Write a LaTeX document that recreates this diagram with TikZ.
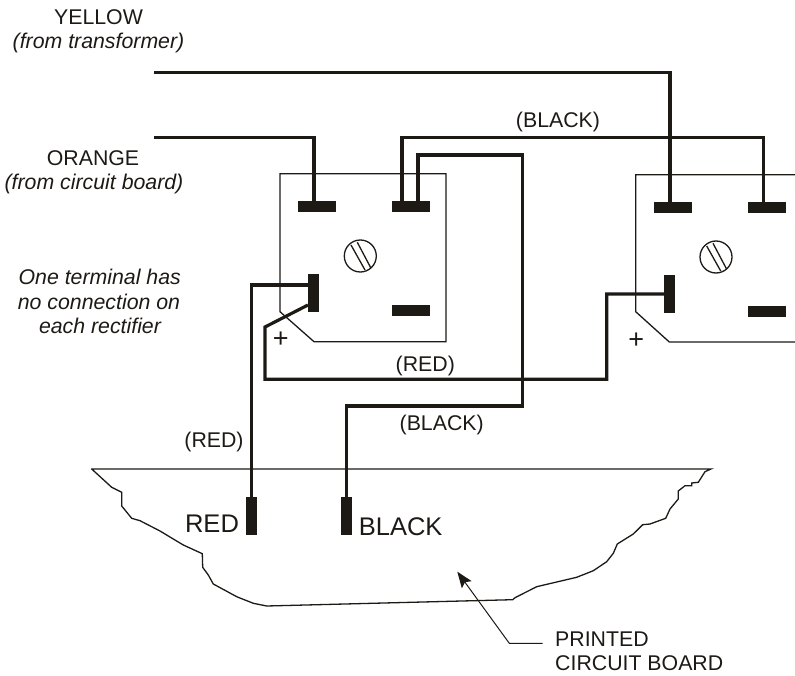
\documentclass[tikz,border=0pt]{standalone}
\usepackage{fontspec}
\setmainfont{Liberation Sans}
\usetikzlibrary{arrows.meta}
\definecolor{ink}{HTML}{1D1A16}
\tikzset{
  x=1pt,y=-1pt,
  wire/.style={draw=ink,line width=3.2pt,line join=miter},
  thin line/.style={draw=ink,line width=1.3pt,line join=miter},
  hterm/.style={fill=ink,draw=none,inner sep=0,minimum width=38pt,minimum height=11pt},
  vterm/.style={fill=ink,draw=none,inner sep=0,minimum width=11pt,minimum height=38pt},
  lab/.style={inner sep=0,anchor=base,text=ink,font=\fontsize{21.3}{24}\selectfont},
  labi/.style={lab,font=\fontsize{21.3}{24}\selectfont\itshape},
  big/.style={lab,font=\fontsize{25.5}{28}\selectfont},
  plus/.style={lab,font=\fontsize{27}{28}\selectfont},
  leftlab/.style={lab,anchor=base west},
  screw/.pic={
    \draw[ink,line width=1.3pt] (0,0) circle[radius=16pt];
    \draw[ink,line width=1.3pt] (-9.3,-11) -- (4.7,14);
    \draw[ink,line width=1.3pt] (-3,-13.7) -- (10.4,11.7);
  }
}
\begin{document}
\begin{tikzpicture}
\useasboundingbox (0,0) rectangle (795,676);
% rectifier outlines
\draw[thin line] (280,311.7) -- (280,173.7) -- (446,173.7) -- (446,341.7) -- (314,341.7) -- cycle;
\draw[thin line] (795,174.7) -- (635.7,174.7) -- (635.7,311.7) -- (669.3,342) -- (795,342);
\pic at (360.3,256) {screw};
\pic at (716,257) {screw};
% board outline
\draw[thin line] (91,469) -- (711,469) -- (705,471.7) -- (698.3,482.3) -- (691.7,483) -- (691.7,485.7) -- (685,485.7) -- (678.3,491) -- (678.3,499) -- (670,509) -- (665.7,518.3) -- (650,524) -- (642.7,524.7) -- (633.3,534) -- (617.3,544) -- (613.3,553.3) -- (606.7,561.7) -- (593.3,570.7) -- (576.7,577.3) -- (536.7,586.7) -- (515,597.7) -- (512.7,599.7) -- (266.7,606) -- (253.3,603.3) -- (236.7,596.7) -- (213.3,584) -- (208.3,575) -- (202.7,567.3) -- (202.3,553.7) -- (183.3,545) -- (160,531) -- (140,520.7) -- (131.7,518.3) -- (121.7,506) -- (121.7,492.3) -- (111.7,487.3) -- (91.7,469);
% terminals
\node[hterm] (a1) at (317,206.3) {};
\node[hterm] (a2) at (411,206.3) {};
\node[hterm] (a3) at (411,310.7) {};
\node[vterm] (a4) at (313.7,293) {};
\node[hterm] (b1) at (673,207.3) {};
\node[hterm] (b2) at (767,207.3) {};
\node[hterm] (b3) at (767,311.7) {};
\node[vterm] (b4) at (669.7,294) {};
\node[vterm] (pr) at (251.5,516) {};
\node[vterm] (pb) at (346.5,516) {};
% free wire ends
\coordinate (yfree) at (154,72.3);
\coordinate (ofree) at (154,137.3);
% wires
\draw[wire] (yfree) -| ([xshift=-3pt]b1.north);
\draw[wire] (ofree) -| ([xshift=-3pt]a1.north);
\draw[wire] ([xshift=-9pt]a2.north) |- (763.5,137.3) -- ([xshift=-3.5pt]b2.north);
\draw[wire] ([xshift=7pt]a2.north) |- (522.5,155) |- (346.5,406) -- (pb.north);
\draw[wire] ([yshift=8pt]a4.west) -| (pr.north);
\draw[wire] ([yshift=-12pt]a4.west) -- (265,327) |- (606.7,379.3) |- (b4.west);
% labels
\node[lab] (l1) at (98.5,25) {YELLOW};
\node[labi] (l2) at (98.5,49) {(from transformer)};
\node[lab] (l3) at (93,166) {ORANGE};
\node[labi] (l4) at (94,190) {(from circuit board)};
\node[labi] (l5) at (99.7,285) {One terminal has};
\node[labi] (l6) at (99,309) {no connection on};
\node[labi] (l7) at (100,333) {each rectifier};
\node[lab] (l8) at (558,127.7) {(BLACK)};
\node[lab] (l9) at (425.3,371.7) {(RED)};
\node[lab] (l10) at (441.7,430) {(BLACK)};
\node[lab] (l11) at (214,447) {(RED)};
\node[plus] (l12) at (280.7,347) {+};
\node[plus] (l13) at (636.3,348) {+};
\node[big] (l14) at (212,532.7) {RED};
\node[big] (l15) at (400.7,535) {BLACK};
\node[leftlab] (l16) at (555,646.7) {PRINTED};
\node[leftlab] (l17) at (555,670) {CIRCUIT BOARD};
% leader
\coordinate (ltip) at (457.3,571.7);
\coordinate (lbend) at (509.3,643.3);
\coordinate (lend) at (542.7,643.3);
\draw[draw=ink,line width=1pt,-{Stealth[length=16pt,width=12pt,inset=3pt]}] (lend) -- (lbend) -- (ltip);
\end{tikzpicture}
\end{document}
